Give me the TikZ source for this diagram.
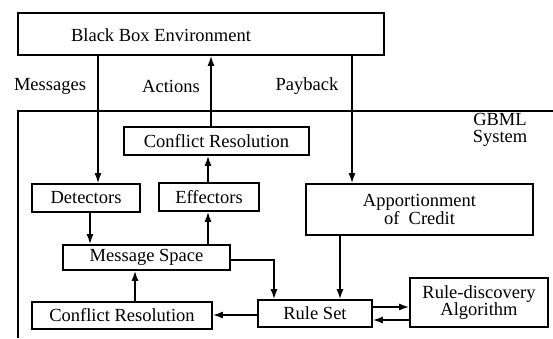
\documentclass[tikz,border=0pt]{standalone}
\usepackage{fontspec}
\setmainfont{Liberation Serif}
\usetikzlibrary{arrows.meta}
\newcommand\dgfont{\fontsize{18.5}{15}\selectfont}
\newcommand\dgfontwide{\fontsize{18.5}{17}\selectfont}
\begin{document}
\begin{tikzpicture}[x=1pt,y=-1pt,
  box/.style={draw,line width=1.6pt,inner sep=0pt,font=\dgfont,align=center},
  lbl/.style={inner sep=0pt,font=\dgfont,align=center},
  arr/.style={-{Latex[length=10pt,width=7pt]},line width=1.6pt},
  ln/.style={line width=1.6pt}]
\useasboundingbox[fill=white] (0,0) rectangle (553,338);
% GBML system frame (cut by the picture edge)
\draw[ln] (18,338) -- (18,111) -- (553,111);
\node[lbl,font=\dgfontwide] (gbml) at (500,130) {GBML\\System};
% nodes
\node[box,minimum width=366pt,minimum height=42pt] (bbe) at (201,34) {};
\node[lbl] (bbet) at (161,35) {Black Box Environment};
\node[lbl] (msg) at (50,86) {Messages};
\node[lbl] (act) at (171,86) {Actions};
\node[lbl] (pay) at (307,86) {Payback};
\node[box,minimum width=185pt,minimum height=28pt] (crt) at (216.5,141) {Conflict Resolution};
\node[box,minimum width=108pt,minimum height=28pt] (det) at (86,198) {Detectors};
\node[box,minimum width=100pt,minimum height=28pt] (eff) at (209,197) {Effectors};
\node[box,minimum width=227pt,minimum height=51pt] (apc) at (419.5,209.5) {Apportionment\\of\ \ Credit};
\node[box,minimum width=167pt,minimum height=25pt] (ms) at (146.5,257.5) {Message Space};
\node[box,minimum width=114pt,minimum height=27pt] (rs) at (315,313.5) {Rule Set};
\node[box,minimum width=138pt,minimum height=49pt,font=\dgfontwide] (rd) at (479,302.5) {Rule-discovery\\Algorithm};
\node[box,minimum width=180pt,minimum height=27pt] (crb) at (122,315.5) {Conflict Resolution};
% connectors
\draw[arr] (98,0 |- bbe.south) -- (98,0 |- det.north);
\draw[arr] (211,0 |- crt.north) -- (211,0 |- bbe.south);
\draw[arr] (352,0 |- bbe.south) -- (352,0 |- apc.north);
\draw[arr] (208,0 |- eff.north) -- (208,0 |- crt.south);
\draw[arr] (90,0 |- det.south) -- (90,0 |- ms.north);
\draw[arr] (208,0 |- ms.north) -- (208,0 |- eff.south);
\draw[arr] (ms.east |- 0,260) -- (274,260) -- (274,0 |- rs.north);
\draw[arr] (340,0 |- apc.south) -- (340,0 |- rs.north);
\draw[arr] (rs.east |- 0,307) -- (rd.west |- 0,307);
\draw[arr] (rd.west |- 0,320) -- (rs.east |- 0,320);
\draw[arr] (rs.west |- 0,315) -- (crb.east |- 0,315);
\draw[arr] (135,0 |- crb.north) -- (135,0 |- ms.south);
\end{tikzpicture}
\end{document}
